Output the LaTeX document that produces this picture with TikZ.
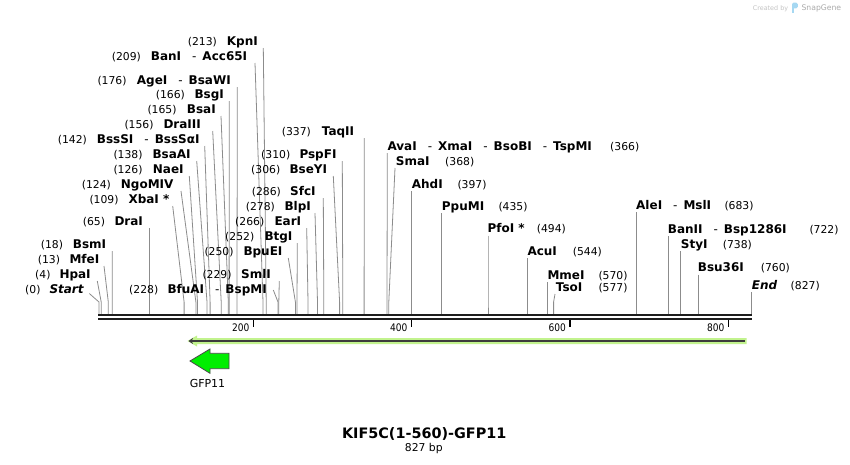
\documentclass[tikz,border=0pt]{standalone}
\usepackage{fontspec}
\setmainfont{DejaVu Sans}
\usetikzlibrary{arrows.meta}
\definecolor{sitegray}{HTML}{8C8C8C}
\definecolor{bbblack}{HTML}{1E1E1E}
\definecolor{bandgreen}{HTML}{C2F38E}
\definecolor{banddark}{HTML}{3C3C3C}
\definecolor{gfpgreen}{HTML}{00EE00}
\definecolor{gfpline}{HTML}{4A4A4A}
\definecolor{credgray}{HTML}{C4C4C4}
\definecolor{snapgray}{HTML}{ABABAB}
\definecolor{snapblue}{HTML}{A6D8F2}
\newcommand{\dsep}{\hspace{11pt}{\mdseries-}\hspace{6pt}}
\newcommand{\zsite}[4]{%
  \coordinate (s#1) at (#2,#3);
  \coordinate (k#1) at (#4,302);
  \coordinate (b#1) at (#4,314);
  \draw[site] (s#1) -- (k#1) -- (b#1);}
\begin{document}
\begin{tikzpicture}[x=1pt,y=-1pt,
  nm/.style={font=\fontsize{12}{14}\selectfont\bfseries, anchor=base west, inner sep=0pt},
  nmi/.style={font=\fontsize{12}{14}\selectfont\bfseries\itshape, anchor=base west, inner sep=0pt},
  num/.style={font=\fontsize{10.8}{13}\selectfont, anchor=base west, inner sep=0pt},
  site/.style={draw=sitegray, line width=0.8pt},
  tickmark/.style={draw=black, line width=1.4pt},
  ticklab/.style={font=\fontsize{10.4}{12}\selectfont, anchor=base east, inner sep=0pt, xscale=0.87},
  bb/.style={draw=bbblack, line width=2pt}]
\useasboundingbox[fill=white] (0,0) rectangle (850,464);

% left-format labels
\node[num] (n1) at (187.7,45) {(213)}; \node[nm] (t1) at (226.7,45) {KpnI}; \zsite{1}{263.3}{48}{266.2}
\node[num] (n2) at (111.7,60) {(209)}; \node[nm] (t2) at (150.7,60) {BanI\dsep Acc65I}; \zsite{2}{255}{63}{263.0}
\node[num] (n3) at (97.3,84) {(176)}; \node[nm] (t3) at (136.7,84) {AgeI\dsep BsaWI}; \zsite{3}{237.3}{87}{237.0}
\node[num] (n4) at (155.7,98.3) {(166)}; \node[nm] (t4) at (194.3,98.3) {BsgI}; \zsite{4}{229.3}{101}{229.1}
\node[num] (n5) at (147.3,113.3) {(165)}; \node[nm] (t5) at (186.7,113.3) {BsaI}; \zsite{5}{221}{116}{228.3}
\node[num] (n6) at (124.3,128.3) {(156)}; \node[nm] (t6) at (163.3,128.3) {DraIII}; \zsite{6}{212.7}{131}{221.2}
\node[num] (n7) at (57.7,143.3) {(142)}; \node[nm] (t7) at (96.7,143.3) {BssSI\dsep BssSαI}; \zsite{7}{204.7}{146}{210.1}
\node[num] (n8) at (113.3,158.3) {(138)}; \node[nm] (t8) at (152.3,158.3) {BsaAI}; \zsite{8}{196.7}{161}{207.0}
\node[num] (n9) at (113.3,173.3) {(126)}; \node[nm] (t9) at (152.7,173.3) {NaeI}; \zsite{9}{189.3}{176}{197.5}
\node[num] (n10) at (81.7,188.3) {(124)}; \node[nm] (t10) at (120.7,188.3) {NgoMIV}; \zsite{10}{181}{191}{195.9}
\node[num] (n11) at (89.3,203.3) {(109)}; \node[nm] (t11) at (128.3,203.3) {XbaI *}; \zsite{11}{172.7}{206}{184.1}
\node[num] (n12) at (82.7,225.7) {(65)}; \node[nm] (t12) at (114.3,225.7) {DraI}; \zsite{12}{149.3}{228}{149.3}
\node[num] (n13) at (40.7,248.3) {(18)}; \node[nm] (t13) at (72.7,248.3) {BsmI}; \zsite{13}{112.3}{251}{112.2}
\node[num] (n14) at (37.7,263.3) {(13)}; \node[nm] (t14) at (69.3,263.3) {MfeI}; \zsite{14}{104}{266}{108.3}
\node[num] (n15) at (35,278.3) {(4)}; \node[nm] (t15) at (59.3,278.3) {HpaI}; \zsite{15}{97.3}{281}{101.2}
\node[num] (n16) at (25,293.3) {(0)}; \node[nmi] (t16) at (49.3,293.3) {Start}; \zsite{16}{89.3}{293.5}{99}
\node[num] (n17) at (129,293.3) {(228)}; \node[nm] (t17) at (167.3,293.3) {BfuAI\dsep BspMI}; \zsite{17}{273.3}{290}{278.0}
\node[num] (n18) at (202.3,278.3) {(229)}; \node[nm] (t18) at (241,278.3) {SmlI}; \zsite{18}{279.3}{281}{278.8}
\node[num] (n19) at (204.3,255) {(250)}; \node[nm] (t19) at (243.3,255) {BpuEI}; \zsite{19}{288.3}{258}{295.4}
\node[num] (n20) at (225,240) {(252)}; \node[nm] (t20) at (264.3,240) {BtgI}; \zsite{20}{297.3}{243}{297.0}
\node[num] (n21) at (235,225) {(266)}; \node[nm] (t21) at (274.3,225) {EarI}; \zsite{21}{306.7}{228}{308.0}
\node[num] (n22) at (245.7,210) {(278)}; \node[nm] (t22) at (284.3,210) {BlpI}; \zsite{22}{315}{213}{317.5}
\node[num] (n23) at (251.7,195) {(286)}; \node[nm] (t23) at (290,195) {SfcI}; \zsite{23}{323.3}{198}{323.8}
\node[num] (n24) at (251,173.3) {(306)}; \node[nm] (t24) at (289.3,173.3) {BseYI}; \zsite{24}{333.3}{176}{339.6}
\node[num] (n25) at (261,158.3) {(310)}; \node[nm] (t25) at (299.3,158.3) {PspFI}; \zsite{25}{342.3}{161}{342.8}
\node[num] (n26) at (281.7,135.7) {(337)}; \node[nm] (t26) at (321.7,135.7) {TaqII}; \zsite{26}{364.3}{138}{364.1}

% right-format labels
\node[nm] (t27) at (387.3,150) {AvaI\dsep XmaI\dsep BsoBI\dsep TspMI}; \node[num] (n27) at (610,150) {(366)}; \zsite{27}{387.3}{153}{387.0}
\node[nm] (t28) at (395.7,165) {SmaI}; \node[num] (n28) at (445,165) {(368)}; \zsite{28}{395}{168}{388.8}
\node[nm] (t29) at (411.7,188.3) {AhdI}; \node[num] (n29) at (457.3,188.3) {(397)}; \zsite{29}{411.6}{191}{411.6}
\node[nm] (t30) at (441.7,210) {PpuMI}; \node[num] (n30) at (498.3,210) {(435)}; \zsite{30}{441.6}{213}{441.6}
\node[nm] (t31) at (487.3,232.7) {PfoI *}; \node[num] (n31) at (536.7,232.7) {(494)}; \zsite{31}{488}{235.5}{488}
\node[nm] (t32) at (527.3,255) {AcuI}; \node[num] (n32) at (572.7,255) {(544)}; \zsite{32}{527.5}{258}{527.5}
\node[nm] (t33) at (547.3,279) {MmeI}; \node[num] (n33) at (598.3,279) {(570)}; \zsite{33}{547.8}{282}{547.8}
\node[nm] (t34) at (555.7,291.7) {TsoI}; \node[num] (n34) at (598.3,291.7) {(577)}; \zsite{34}{555}{294}{553.6}
\node[nm] (t35) at (636,209) {AleI\dsep MslI}; \node[num] (n35) at (724.3,209) {(683)}; \zsite{35}{636.6}{212}{636.6}
\node[nm] (t36) at (667.7,233.3) {BanII\dsep Bsp1286I}; \node[num] (n36) at (809.3,233.3) {(722)}; \zsite{36}{668}{236}{668}
\node[nm] (t37) at (680.7,248.3) {StyI}; \node[num] (n37) at (722.7,248.3) {(738)}; \zsite{37}{680.7}{251}{680.7}
\node[nm] (t38) at (697.7,271.7) {Bsu36I}; \node[num] (n38) at (760.7,271.7) {(760)}; \zsite{38}{698}{274.5}{698}
\node[nmi] (t39) at (751.7,289) {End}; \node[num] (n39) at (790.5,289) {(827)}; \zsite{39}{751.3}{292}{751.3}

% backbone
\coordinate (bbL) at (98,315); \coordinate (bbR) at (751.7,315);
\coordinate (bbL2) at (98,319.4); \coordinate (bbR2) at (751.7,319.4);
\draw[bb] (bbL) -- (bbR);
\draw[bb] (bbL2) -- (bbR2);

% ticks
\foreach \tx/\tl in {253.3/200, 411.3/400, 569.8/600, 728.3/800}{
  \draw[tickmark] (\tx,320) -- (\tx,327);
  \node[ticklab] (tick\tl) at (\tx-3.8,331) {\tl};
}

% feature band
\coordinate (fL) at (188.5,341); \coordinate (fR) at (746.7,341);
\fill[bandgreen] (746.7,338) -- (197,338) -- (197,335.5) -- (187.5,341) -- (197,346.5) -- (197,344) -- (746.7,344) -- cycle;
\draw[draw=banddark, line width=1.7pt, {Stealth[length=4.5pt,width=6pt]}-] (fL) -- (745,341);

% GFP11 arrow
\draw[fill=gfpgreen, draw=gfpline, line width=0.8pt, line join=miter]
  (190,361) -- (210,349) -- (210,353.3) -- (229,353.3) -- (229,368.7) -- (210,368.7) -- (210,373.3) -- cycle;
\node[font=\fontsize{11}{13}\selectfont, anchor=base, inner sep=0pt] (gfp) at (207.5,387.5) {GFP11};

% title
\node[font=\fontsize{14.4}{17}\selectfont\bfseries, anchor=base, inner sep=0pt] (title) at (424.2,438.3) {KIF5C(1-560)-GFP11};
\node[font=\fontsize{10.8}{13}\selectfont, anchor=base, inner sep=0pt] (bp) at (423.8,451.7) {827 bp};

% watermark
\node[font=\fontsize{6.4}{8}\selectfont, text=credgray, anchor=base west, inner sep=0pt] (cred) at (752.7,10) {Created by};
\fill[snapblue, rounded corners=1.6pt] (792,2.5) rectangle (797.8,8.3);
\fill[snapblue] (792,4) rectangle (794.3,12.5);
\node[font=\fontsize{7.7}{9}\selectfont, text=snapgray, anchor=base west, inner sep=0pt] (snap) at (801.3,10.7) {SnapGene};
\end{tikzpicture}
\end{document}
